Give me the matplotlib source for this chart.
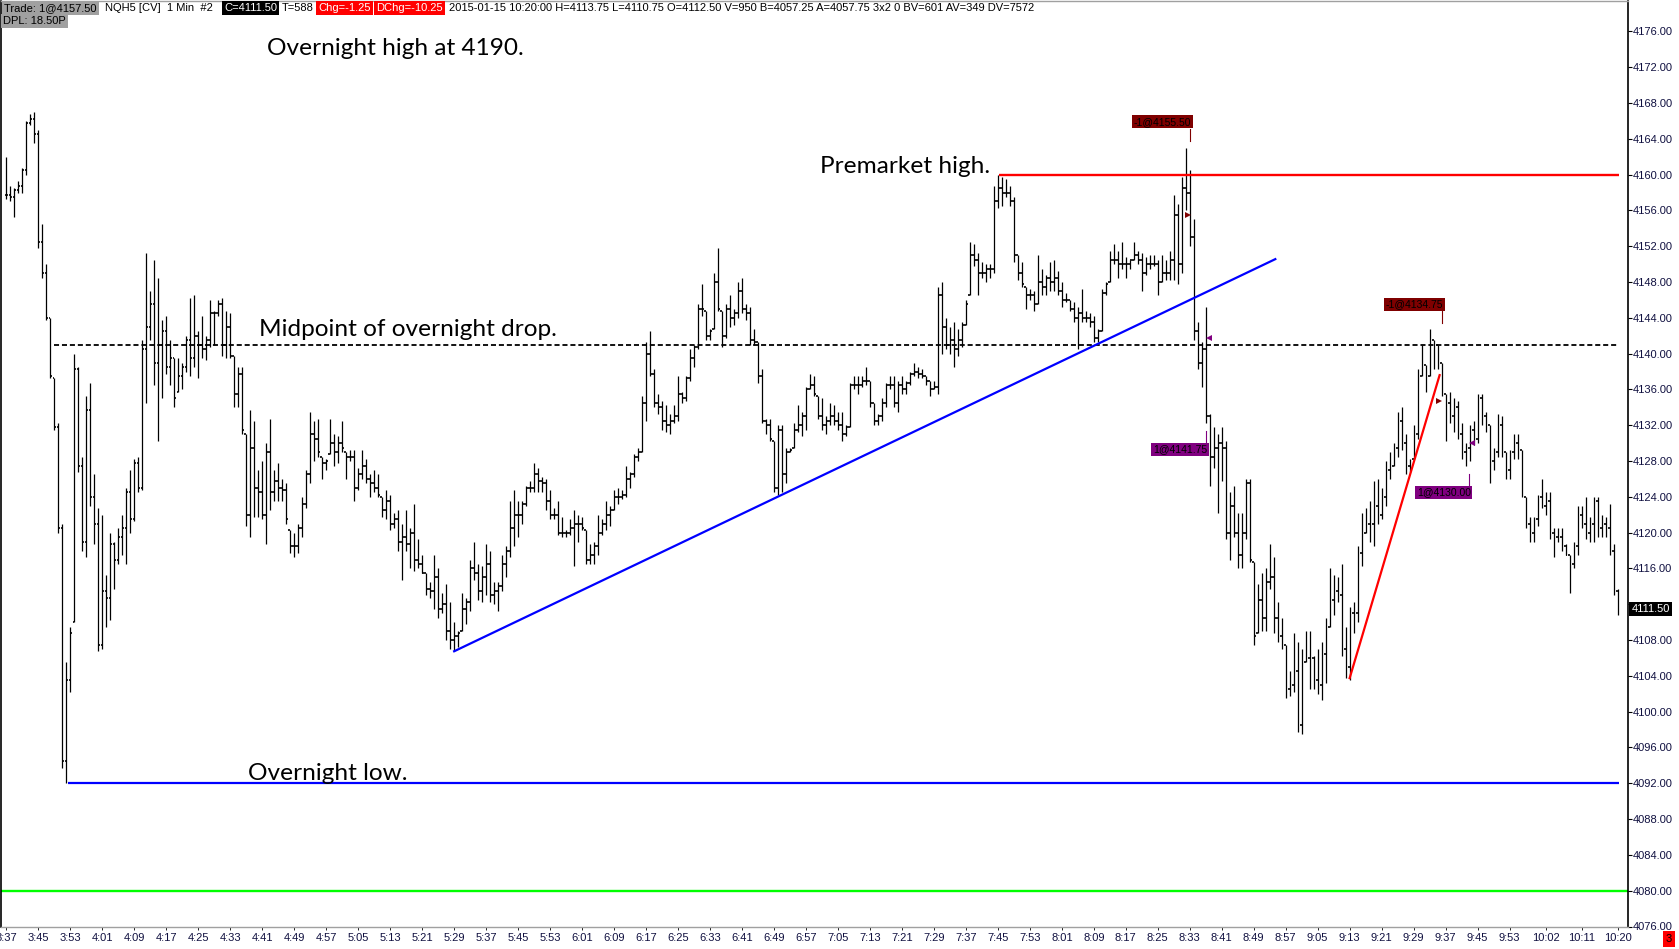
import numpy as np
import matplotlib.pyplot as plt
import matplotlib.transforms as mtransforms

W, H = 1679, 949

# NQH5 1 minute bars, bar 0 = 3:37
highs = [
    4162.0, 4158.75, 4158.5, 4159.25, 4160.75, 4166.0, 4166.75, 4167.0, 4165.0, 4154.5,
    4150.0, 4144.0, 4137.25, 4132.25, 4121.0, 4105.5, 4109.5, 4140.0, 4138.5, 4128.5,
    4135.25, 4136.75, 4126.5, 4122.75, 4122.0, 4115.25, 4120.0, 4119.0, 4120.5, 4122.0,
    4125.0, 4127.0, 4128.25, 4128.5, 4141.5, 4151.25, 4147.0, 4150.5, 4148.5, 4143.75,
    4144.25, 4141.5, 4139.5, 4139.5, 4139.0, 4142.0, 4146.25, 4146.5, 4142.5, 4144.25,
    4142.0, 4146.0, 4144.75, 4146.0, 4146.25, 4144.75, 4144.5, 4139.75, 4138.5, 4138.5,
    4131.0, 4133.75, 4132.5, 4127.0, 4128.0, 4130.0, 4132.75, 4127.0, 4127.75, 4126.0,
    4125.5, 4120.25, 4120.0, 4121.0, 4124.0, 4127.0, 4133.5, 4132.5, 4132.75, 4128.5,
    4128.25, 4132.75, 4131.0, 4130.75, 4132.5, 4129.0, 4129.25, 4129.25, 4127.25, 4129.25,
    4128.25, 4126.5, 4127.0, 4126.5, 4124.0, 4124.75, 4124.25, 4122.25, 4122.5, 4121.0,
    4122.5, 4120.5, 4123.25, 4119.25, 4117.5, 4115.5, 4114.5, 4117.5, 4116.0, 4113.25,
    4114.25, 4112.25, 4110.0, 4109.0, 4113.25, 4112.75, 4117.0, 4119.0, 4116.5, 4116.25,
    4118.75, 4118.0, 4114.5, 4114.5, 4117.5, 4118.5, 4123.5, 4124.75, 4123.5, 4123.5,
    4125.25, 4125.75, 4127.75, 4127.25, 4126.25, 4126.0, 4124.75, 4122.75, 4123.5, 4121.75,
    4120.25, 4121.5, 4122.5, 4122.0, 4121.75, 4120.25, 4118.75, 4119.0, 4122.0, 4121.5,
    4123.5, 4123.0, 4124.75, 4125.0, 4124.75, 4127.5, 4126.75, 4128.75, 4129.5, 4135.25,
    4141.25, 4142.5, 4138.25, 4135.5, 4134.75, 4134.25, 4133.25, 4134.25, 4137.5, 4135.75,
    4137.5, 4140.5, 4141.0, 4145.5, 4147.75, 4144.75, 4142.75, 4149.0, 4151.75, 4144.75,
    4145.5, 4146.5, 4145.0, 4148.0, 4148.5, 4145.5, 4145.25, 4142.75, 4141.25, 4138.25,
    4132.75, 4132.75, 4130.25, 4132.0, 4132.0, 4129.5, 4129.5, 4132.25, 4134.25, 4133.5,
    4136.25, 4137.75, 4137.5, 4135.25, 4135.0, 4133.0, 4134.5, 4134.25, 4133.5, 4133.5,
    4132.0, 4136.75, 4137.5, 4137.5, 4137.5, 4138.5, 4137.0, 4134.5, 4133.25, 4135.0,
    4136.75, 4137.5, 4137.5, 4137.0, 4137.5, 4137.0, 4138.0, 4139.0, 4138.5, 4138.25,
    4137.5, 4137.0, 4137.0, 4147.5, 4148.0, 4144.0, 4143.0, 4143.5, 4142.75, 4143.5,
    4146.0, 4152.5, 4152.25, 4151.25, 4150.25, 4150.0, 4150.0, 4158.75, 4160.0, 4159.75,
    4159.5, 4158.75, 4157.5, 4151.0, 4150.25, 4147.5, 4147.25, 4147.0, 4151.0, 4149.5,
    4148.75, 4150.25, 4150.5, 4149.25, 4148.0, 4146.75, 4146.0, 4145.75, 4145.25, 4147.25,
    4144.75, 4144.5, 4144.25, 4142.75, 4147.25, 4148.0, 4151.5, 4152.25, 4151.5, 4152.5,
    4150.75, 4150.5, 4152.5, 4151.5, 4151.25, 4150.75, 4151.0, 4151.0, 4150.5, 4151.0,
    4150.5, 4151.5, 4157.75, 4156.75, 4159.75, 4163.0, 4160.5, 4155.0, 4143.5, 4141.25,
    4145.25, 4133.25, 4131.75, 4131.0, 4131.75, 4130.25, 4124.5, 4125.25, 4122.25, 4122.25,
    4126.0, 4126.0, 4116.75, 4114.25, 4115.5, 4116.0, 4118.75, 4117.25, 4112.25, 4110.5,
    4107.5, 4104.5, 4108.75, 4107.75, 4107.0, 4109.0, 4109.0, 4106.25, 4107.0, 4107.75,
    4110.5, 4116.0, 4115.25, 4115.0, 4116.5, 4109.5, 4111.75, 4112.25, 4118.5, 4122.25,
    4122.75, 4123.5, 4125.75, 4126.0, 4125.0, 4128.0, 4129.0, 4130.0, 4133.5, 4134.0,
    4131.0, 4128.25, 4132.0, 4138.25, 4141.0, 4138.75, 4142.75, 4141.5, 4141.0, 4139.0,
    4135.5, 4135.75, 4135.0, 4134.75, 4132.25, 4130.0, 4132.0, 4132.5, 4135.5, 4135.5,
    4133.5, 4132.0, 4129.5, 4133.25, 4133.0, 4129.0, 4129.25, 4131.0, 4131.0, 4129.25,
    4124.0, 4121.75, 4121.75, 4124.25, 4126.0, 4124.5, 4124.5, 4120.5, 4120.5, 4120.5,
    4118.75, 4117.5, 4119.0, 4123.0, 4123.0, 4124.0, 4121.75, 4124.0, 4124.0, 4122.0,
    4121.75, 4123.25, 4118.75, 4113.75,
]
lows = [
    4157.25, 4157.0, 4155.25, 4158.0, 4158.0, 4160.0, 4165.5, 4163.5, 4151.75, 4148.5,
    4143.75, 4137.25, 4131.5, 4120.0, 4093.75, 4092.0, 4102.25, 4110.0, 4126.75, 4118.0,
    4117.25, 4123.0, 4118.75, 4106.75, 4107.0, 4109.5, 4110.25, 4113.75, 4116.5, 4117.5,
    4116.5, 4120.0, 4121.25, 4124.5, 4124.75, 4134.5, 4141.5, 4136.5, 4130.25, 4135.0,
    4137.75, 4136.5, 4134.0, 4135.75, 4136.0, 4138.0, 4137.5, 4138.5, 4137.25, 4139.5,
    4139.25, 4140.75, 4141.0, 4144.25, 4139.75, 4139.5, 4139.5, 4134.0, 4134.0, 4131.0,
    4120.75, 4119.5, 4121.75, 4121.75, 4121.5, 4118.75, 4122.5, 4123.5, 4123.5, 4123.5,
    4121.0, 4117.75, 4117.25, 4117.75, 4119.5, 4122.75, 4125.5, 4128.0, 4128.5, 4126.0,
    4127.0, 4128.75, 4127.5, 4127.75, 4129.0, 4126.0, 4128.0, 4123.5, 4124.75, 4126.0,
    4125.5, 4124.0, 4124.5, 4124.0, 4121.75, 4121.5, 4120.25, 4120.5, 4118.0, 4114.75,
    4118.0, 4116.0, 4115.75, 4116.0, 4115.5, 4113.0, 4112.75, 4111.5, 4110.5, 4111.0,
    4108.0, 4107.0, 4106.75, 4107.25, 4109.0, 4109.75, 4111.25, 4114.75, 4112.5, 4112.25,
    4113.0, 4112.25, 4112.0, 4111.25, 4113.5, 4115.0, 4117.25, 4118.5, 4119.5, 4121.0,
    4123.0, 4124.5, 4124.5, 4124.5, 4124.5, 4122.5, 4121.5, 4121.5, 4119.75, 4119.5,
    4119.5, 4119.75, 4116.25, 4119.0, 4120.25, 4116.5, 4116.5, 4116.5, 4117.5, 4119.75,
    4120.25, 4120.75, 4122.5, 4123.25, 4123.75, 4124.0, 4125.0, 4126.25, 4128.0, 4129.0,
    4132.5, 4137.5, 4134.0, 4133.25, 4131.5, 4131.25, 4131.0, 4132.25, 4132.5, 4134.5,
    4134.75, 4137.0, 4138.5, 4140.5, 4144.25, 4141.5, 4141.5, 4142.75, 4144.75, 4140.75,
    4141.75, 4143.0, 4143.25, 4144.0, 4144.5, 4143.75, 4141.0, 4141.0, 4136.75, 4132.25,
    4131.0, 4130.25, 4124.5, 4124.25, 4124.5, 4125.5, 4129.0, 4129.5, 4131.25, 4130.75,
    4131.5, 4136.0, 4135.25, 4132.75, 4131.5, 4131.0, 4132.0, 4132.0, 4131.5, 4130.25,
    4130.75, 4131.75, 4136.0, 4135.5, 4136.25, 4136.5, 4134.0, 4132.0, 4132.0, 4132.5,
    4134.0, 4136.0, 4134.0, 4133.5, 4135.5, 4135.5, 4136.5, 4137.5, 4137.25, 4137.25,
    4136.5, 4135.25, 4136.0, 4135.5, 4140.0, 4140.5, 4140.0, 4138.5, 4139.75, 4140.75,
    4143.25, 4146.5, 4149.75, 4146.5, 4148.5, 4148.0, 4148.5, 4149.0, 4156.25, 4156.5,
    4157.5, 4156.5, 4150.25, 4148.25, 4147.5, 4145.0, 4146.0, 4144.75, 4145.5, 4146.5,
    4146.5, 4147.0, 4147.0, 4146.5, 4145.25, 4145.75, 4144.75, 4143.5, 4140.5, 4143.5,
    4143.5, 4143.0, 4141.25, 4141.25, 4142.5, 4146.5, 4148.0, 4150.0, 4148.5, 4149.5,
    4148.5, 4149.5, 4150.5, 4150.0, 4147.0, 4148.75, 4149.5, 4149.75, 4146.5, 4148.0,
    4148.25, 4148.25, 4148.25, 4147.75, 4149.0, 4156.0, 4152.0, 4141.5, 4138.25, 4136.25,
    4132.25, 4125.25, 4127.25, 4122.25, 4125.75, 4119.25, 4117.0, 4119.5, 4116.0, 4116.0,
    4119.25, 4116.75, 4107.5, 4108.75, 4109.0, 4109.0, 4113.75, 4108.75, 4107.75, 4107.0,
    4101.5, 4101.75, 4102.25, 4097.75, 4097.5, 4105.5, 4102.5, 4102.5, 4102.0, 4101.25,
    4103.25, 4109.5, 4110.75, 4112.25, 4106.25, 4103.75, 4103.5, 4108.75, 4110.0, 4116.25,
    4120.0, 4119.0, 4118.5, 4121.0, 4121.5, 4123.0, 4126.0, 4127.5, 4128.5, 4129.25,
    4126.5, 4126.75, 4128.25, 4130.5, 4137.5, 4135.75, 4137.5, 4138.25, 4138.25, 4135.25,
    4130.25, 4132.25, 4131.25, 4130.5, 4128.25, 4127.5, 4128.0, 4129.75, 4130.0, 4132.0,
    4131.25, 4125.5, 4127.0, 4128.5, 4128.5, 4126.0, 4126.0, 4128.25, 4128.25, 4124.0,
    4120.5, 4119.0, 4119.0, 4120.75, 4122.75, 4122.0, 4119.25, 4117.25, 4119.0, 4118.0,
    4117.5, 4113.25, 4116.0, 4117.5, 4120.5, 4119.25, 4119.0, 4119.0, 4119.5, 4119.5,
    4119.5, 4117.5, 4113.0, 4110.75,
]
closes = [
    4157.75, 4157.5, 4158.25, 4158.75, 4160.5, 4165.75, 4166.25, 4164.5, 4152.5, 4149.0,
    4144.0, 4137.5, 4131.75, 4120.5, 4094.5, 4103.5, 4108.75, 4138.25, 4127.5, 4119.0,
    4133.75, 4124.0, 4121.0, 4107.5, 4113.5, 4112.75, 4118.75, 4117.0, 4119.5, 4120.5,
    4124.5, 4121.5, 4127.75, 4125.0, 4140.5, 4143.0, 4145.5, 4139.0, 4141.0, 4142.5,
    4138.5, 4139.5, 4135.0, 4137.5, 4138.5, 4141.5, 4139.5, 4142.0, 4141.0, 4140.5,
    4141.5, 4144.5, 4144.5, 4145.5, 4141.0, 4143.0, 4139.75, 4135.5, 4137.75, 4131.5,
    4122.0, 4129.5, 4125.0, 4124.5, 4122.0, 4129.0, 4124.5, 4125.75, 4125.0, 4124.75,
    4121.5, 4118.5, 4118.5, 4120.5, 4123.25, 4126.5, 4131.0, 4130.5, 4129.0, 4127.75,
    4128.0, 4130.0, 4129.0, 4130.0, 4129.5, 4128.5, 4128.5, 4125.0, 4126.5, 4127.5,
    4126.0, 4125.5, 4125.0, 4124.25, 4122.5, 4123.5, 4121.0, 4121.5, 4119.0, 4119.5,
    4118.75, 4120.0, 4117.0, 4116.5, 4115.5, 4113.75, 4113.5, 4115.0, 4111.5, 4112.0,
    4109.0, 4108.0, 4108.5, 4108.75, 4111.5, 4112.25, 4116.0, 4115.5, 4113.5, 4115.0,
    4116.5, 4113.0, 4113.5, 4114.0, 4116.5, 4118.0, 4120.5, 4122.0, 4122.0, 4123.25,
    4125.0, 4125.0, 4126.5, 4125.75, 4125.5, 4123.5, 4122.0, 4122.0, 4120.0, 4120.0,
    4120.0, 4120.5, 4121.0, 4121.0, 4120.5, 4117.0, 4117.5, 4118.5, 4120.0, 4121.0,
    4122.0, 4122.5, 4124.0, 4124.0, 4124.25, 4126.0, 4126.5, 4128.5, 4129.0, 4134.5,
    4140.0, 4137.75, 4134.5, 4134.0, 4132.5, 4132.0, 4132.5, 4133.0, 4135.5, 4135.0,
    4137.25, 4139.5, 4140.75, 4145.0, 4145.0, 4142.0, 4142.5, 4148.0, 4145.0, 4142.0,
    4145.0, 4144.0, 4144.5, 4147.0, 4145.0, 4144.5, 4141.5, 4141.25, 4137.5, 4132.5,
    4132.0, 4130.5, 4125.0, 4131.5, 4126.5, 4129.0, 4129.25, 4131.5, 4132.0, 4133.0,
    4136.0, 4136.5, 4135.5, 4133.0, 4132.0, 4132.5, 4133.0, 4132.5, 4132.0, 4131.0,
    4131.75, 4136.5, 4136.5, 4136.5, 4137.0, 4137.0, 4134.5, 4132.5, 4133.0, 4134.5,
    4136.5, 4136.5, 4134.5, 4136.5, 4136.0, 4136.75, 4137.75, 4138.0, 4137.75, 4137.5,
    4137.0, 4136.0, 4136.25, 4146.5, 4143.0, 4141.0, 4141.5, 4140.5, 4141.5, 4143.25,
    4145.5, 4151.0, 4150.5, 4149.0, 4149.0, 4149.5, 4149.5, 4157.0, 4158.5, 4158.0,
    4158.0, 4157.0, 4151.0, 4149.0, 4147.75, 4146.5, 4146.5, 4145.5, 4148.0, 4147.5,
    4148.5, 4148.0, 4148.5, 4147.0, 4146.0, 4146.0, 4145.0, 4144.0, 4144.5, 4144.0,
    4144.0, 4143.5, 4141.75, 4142.5, 4146.75, 4147.75, 4150.5, 4150.5, 4150.0, 4150.0,
    4150.0, 4150.5, 4151.0, 4150.5, 4149.0, 4150.0, 4150.0, 4150.0, 4148.0, 4149.0,
    4149.0, 4150.5, 4155.5, 4150.0, 4158.5, 4158.0, 4153.0, 4142.5, 4139.0, 4140.5,
    4133.0, 4128.5, 4129.5, 4130.0, 4129.5, 4120.0, 4123.0, 4120.0, 4117.5, 4120.0,
    4125.5, 4117.0, 4108.5, 4112.5, 4110.5, 4114.5, 4115.0, 4110.5, 4108.5, 4107.5,
    4102.5, 4103.0, 4104.5, 4098.5, 4105.0, 4106.0, 4106.0, 4103.5, 4103.0, 4106.5,
    4109.5, 4112.5, 4113.5, 4113.0, 4107.0, 4105.0, 4111.0, 4111.0, 4117.75, 4120.0,
    4121.0, 4121.0, 4123.0, 4122.0, 4124.0, 4127.0, 4127.5, 4129.5, 4132.5, 4130.0,
    4127.5, 4128.0, 4131.0, 4137.5, 4139.0, 4137.0, 4141.5, 4141.0, 4139.5, 4135.5,
    4134.5, 4133.0, 4134.0, 4131.0, 4129.0, 4129.5, 4131.5, 4130.5, 4135.0, 4133.0,
    4132.0, 4128.0, 4129.0, 4132.0, 4129.0, 4127.0, 4129.0, 4130.0, 4129.5, 4124.5,
    4121.0, 4120.0, 4121.5, 4124.0, 4123.0, 4123.5, 4120.0, 4119.5, 4119.5, 4118.5,
    4117.5, 4116.5, 4118.5, 4122.0, 4121.0, 4120.0, 4121.0, 4123.5, 4120.5, 4121.0,
    4120.5, 4118.0, 4113.5, 4111.5,
]

tick_labels = ['3:37', '3:45', '3:53', '4:01', '4:09', '4:17', '4:25', '4:33', '4:41', '4:49',
               '4:57', '5:05', '5:13', '5:21', '5:29', '5:37', '5:45', '5:53', '6:01', '6:09',
               '6:17', '6:25', '6:33', '6:41', '6:49', '6:57', '7:05', '7:13', '7:21', '7:29',
               '7:37', '7:45', '7:53', '8:01', '8:09', '8:17', '8:25', '8:33', '8:41', '8:49',
               '8:57', '9:05', '9:13', '9:21', '9:29', '9:37', '9:45', '9:53', '10:02', '10:11',
               '10:20']
price_ticks = np.arange(4076, 4177, 4)

overnight_low = 4092.0
midpoint = 4141.0
premarket_high = 4160.0
green_level = 4080.0
last_price = 4111.50

# trend lines (bar index, price)
blue_trend = ([112, 317.4], [4106.75, 4150.56])
red_trend = ([336, 358.5], [4103.75, 4137.6])

# order markers: (bar, price, text, colour, label bar, label price, kind)
orders = [
    (295.5, 4155.50, '-1@4155.50', '#7f0000', 296.3, 4165.9, 'sell'),
    (300.8, 4141.75, '1@4141.75', '#800080', 300.3, 4129.3, 'buy'),
    (358.4, 4134.75, '-1@4134.75', '#7f0000', 359.4, 4145.5, 'sell'),
    (366.6, 4130.00, '1@4130.00', '#800080', 366.3, 4124.5, 'buy'),
]

highs = np.array(highs)
lows = np.array(lows)
closes = np.array(closes)
n = len(highs)
x = np.arange(n)
opens = np.clip(np.r_[closes[0], closes[:-1]], lows, highs)

fig = plt.figure(figsize=(W / 100, H / 100), dpi=100)
ax = fig.add_axes([0.0006, (H - 926.5) / H, (1627.5 - 1) / W, (926.5 - 1) / H])
ax.set_xlim(-1.35, 405.5)
ax.set_ylim(4076.1, 4179.4)

ax.vlines(x, lows, highs, color='black', lw=0.9)
ax.hlines(opens, x - 0.45, x, color='black', lw=1.2)
ax.hlines(closes, x, x + 0.45, color='black', lw=1.2)

end = 403.3
ax.axhline(green_level, color='#00ff00', lw=1.7)
ax.hlines(overnight_low, 15.3, end, color='#0000ff', lw=1.6)
ax.hlines(premarket_high, 248.2, end, color='#ff0000', lw=1.7)
ax.hlines(midpoint, 12, end, color='black', lw=1.3, linestyles=(0, (2.8, 1.6)))
ax.plot(*blue_trend, color='#0000ff', lw=1.6)
ax.plot(*red_trend, color='#ff0000', lw=1.6)

for bx, p, txt, col, lx, ly, kind in orders:
    ax.plot(bx, p, marker='>' if kind == 'sell' else '<', color=col, ms=4, mew=0)
    ax.text(lx, ly, txt, ha='right', va='center', fontsize=7.5, family='Liberation Sans',
            color='black', bbox=dict(boxstyle='square,pad=0.15', fc=col, ec='none'))
    if kind == 'sell':
        ax.plot([lx - 0.35, lx - 0.35], [ly - 0.75, ly - 2.1], color=col, lw=0.8)
    else:
        ax.plot([lx - 0.35, lx - 0.35], [ly + 0.7, ly + 2.1], color=col, lw=0.8)

font = 'Lato'
ax.text(65.1, 4173.4, 'Overnight high at 4190.', fontsize=17.6, family=font, va='baseline')
ax.text(63.2, 4142.0, 'Midpoint of overnight drop.', fontsize=17.6, family=font, va='baseline')
ax.text(203.6, 4160.2, 'Premarket high.', fontsize=17.6, family=font, va='baseline')
ax.text(60.5, 4092.4, 'Overnight low.', fontsize=17.6, family=font, va='baseline')

# axes styling
tick_pos = [int(t.split(':')[0]) * 60 + int(t.split(':')[1]) - (3 * 60 + 37) for t in tick_labels]
ax.set_xticks(tick_pos)
ax.set_xticklabels(tick_labels)
ax.set_yticks(price_ticks)
# the 4112 label sits under the last-price box
ax.set_yticklabels(['' if v == 4112 else '%.2f' % v for v in price_ticks])
ax.yaxis.tick_right()
ax.tick_params(axis='y', length=3, width=0.8, pad=1, labelsize=8, labelcolor='#101040')
ax.tick_params(axis='x', length=2, width=0.6, pad=3, labelsize=8, labelcolor='#101040')
for lab in ax.get_xticklabels() + ax.get_yticklabels():
    lab.set_family('Liberation Sans')
for s in ['left', 'right']:
    ax.spines[s].set_color('black')
    ax.spines[s].set_linewidth(1.2)
for s in ['top', 'bottom']:
    ax.spines[s].set_color('#a0a0a0')
    ax.spines[s].set_linewidth(1.0)

trans = mtransforms.blended_transform_factory(ax.transAxes, ax.transData)
ax.text(1.0025, last_price, '%.2f' % last_price, transform=trans, ha='left', va='center',
        fontsize=8, family='Liberation Sans', color='white',
        bbox=dict(boxstyle='square,pad=0.2', fc='black', ec='none'))

# header strip
def px(xp, yp):
    return xp / W, 1 - yp / H

hdr = dict(fontsize=8, family='Liberation Sans', va='center', ha='left')
fig.text(*px(4, 8), 'Trade: 1@4157.50', bbox=dict(boxstyle='square,pad=0.2', fc='#a0a0a0', ec='none'), **hdr)
fig.text(*px(105, 8), 'NQH5 [CV]  1 Min  #2', **hdr)
fig.text(*px(224, 8), 'C=4111.50', color='white', bbox=dict(boxstyle='square,pad=0.2', fc='black', ec='none'), **hdr)
fig.text(*px(282, 8), 'T=588', **hdr)
fig.text(*px(318, 8), 'Chg=-1.25', color='white', bbox=dict(boxstyle='square,pad=0.2', fc='#ff0000', ec='none'), **hdr)
fig.text(*px(376, 8), 'DChg=-10.25', color='white', bbox=dict(boxstyle='square,pad=0.2', fc='#ff0000', ec='none'), **hdr)
fig.text(*px(449, 8), '2015-01-15 10:20:00 H=4113.75 L=4110.75 O=4112.50 V=950 B=4057.25 A=4057.75 3x2 0 '
         'BV=601 AV=349 DV=7572', **hdr)
fig.text(*px(3, 21), 'DPL: 18.50P', bbox=dict(boxstyle='square,pad=0.2', fc='#a0a0a0', ec='none'), **hdr)
fig.text(*px(1669, 939), '3', color='black', ha='center', va='center', fontsize=8,
         family='Liberation Sans', bbox=dict(boxstyle='square,pad=0.3', fc='#ff0000', ec='none'))

fig.savefig('out.png', dpi=100)
